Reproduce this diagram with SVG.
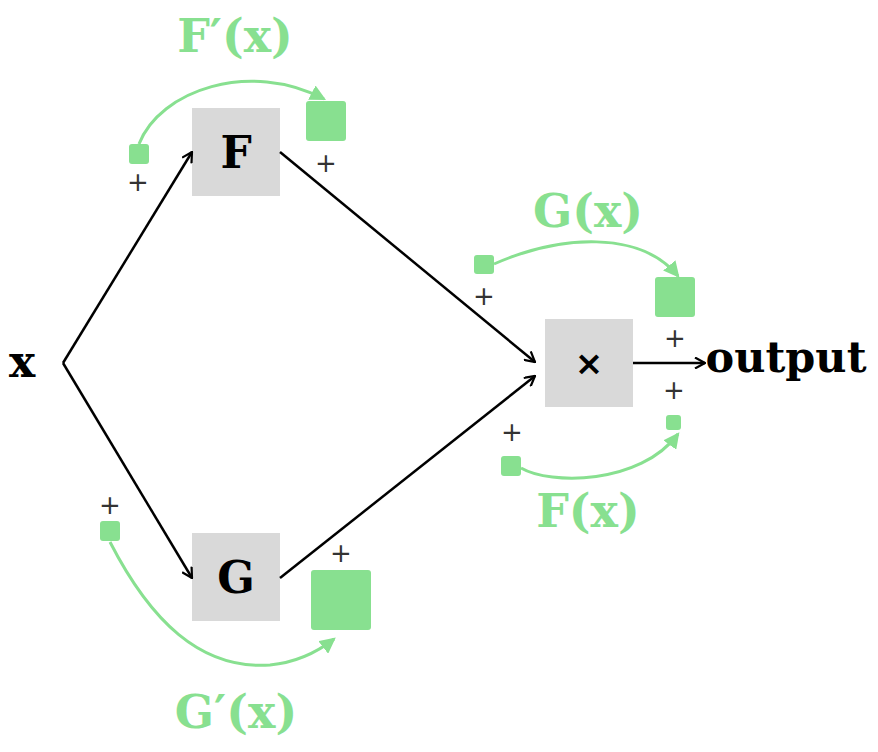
<svg xmlns="http://www.w3.org/2000/svg" width="878" height="752" viewBox="0 0 878 752">
<style>
.box{fill:#d9d9d9}
.lbl{font-family:"DejaVu Serif",serif;font-weight:bold;fill:#000;text-anchor:middle}
.g{fill:#88e090}
.gt{font-family:"DejaVu Serif",serif;font-weight:bold;fill:#88e090;text-anchor:middle;font-size:46px}
.plus{font-family:"DejaVu Sans",sans-serif;fill:#333;font-size:26px;text-anchor:middle}
.edge{stroke:#000;stroke-width:2.5;fill:none;marker-end:url(#open)}
.gc{stroke:#88e090;stroke-width:3;fill:none;marker-end:url(#tri)}
</style>
<defs>
<marker id="open" viewBox="0 0 12 12" refX="11" refY="6" markerWidth="12" markerHeight="12" markerUnits="userSpaceOnUse" orient="auto">
<path d="M1,0.5 L11,6 L1,11.5" fill="none" stroke="#000" stroke-width="2.2"/>
</marker>
<marker id="tri" viewBox="0 0 14 14" refX="12" refY="7" markerWidth="16" markerHeight="16" markerUnits="userSpaceOnUse" orient="auto">
<path d="M0,0 L14,7 L0,14 Z" fill="#88e090"/>
</marker>
</defs>
<g id="x"><text class="lbl" x="22" y="377" font-size="44">x</text></g>
<g id="F"><rect class="box" x="192" y="108" width="88" height="88"/><text class="lbl" x="236" y="168" font-size="44">F</text></g>
<g id="G"><rect class="box" x="192" y="533" width="88" height="88"/><text class="lbl" x="236" y="593" font-size="44">G</text></g>
<g id="mul"><rect class="box" x="545" y="319" width="88" height="88"/><text x="589" y="375" font-family="DejaVu Sans,sans-serif" font-weight="bold" font-size="34" text-anchor="middle">×</text></g>
<g id="output"><text class="lbl" x="786" y="372" font-size="43">output</text></g>
<g id="edges">
<path class="edge" d="M63,363 L192,152"/>
<path class="edge" d="M63,363 L192,578"/>
<path class="edge" d="M280,152 L535,362"/>
<path class="edge" d="M280,578 L535,376"/>
<path class="edge" d="M633,363 L705,363"/>
</g>
<g id="Fprime">
<rect class="g" x="129" y="144" width="20" height="20" rx="3"/>
<rect class="g" x="306" y="101" width="40" height="40" rx="3"/>
<text class="plus" x="138" y="191">+</text>
<text class="plus" x="326" y="172">+</text>
<path class="gc" d="M139,144 C160,90 250,60 324,99"/>
<text class="gt" x="235" y="52">F′(x)</text>
</g>
<g id="Gx">
<rect class="g" x="474" y="255" width="20" height="19" rx="3"/>
<rect class="g" x="655" y="277" width="40" height="40" rx="3"/>
<text class="plus" x="484" y="305">+</text>
<text class="plus" x="675" y="347">+</text>
<path class="gc" d="M494,264 C560,235 640,230 678,276"/>
<text class="gt" x="588" y="227">G(x)</text>
</g>
<g id="Fx">
<rect class="g" x="501" y="456" width="20" height="20" rx="3"/>
<rect class="g" x="666" y="415" width="15" height="15" rx="3"/>
<text class="plus" x="512" y="441">+</text>
<text class="plus" x="674" y="399">+</text>
<path class="gc" d="M521,468 C550,485 640,485 678,434"/>
<text class="gt" x="588" y="527">F(x)</text>
</g>
<g id="Gprime">
<rect class="g" x="100" y="521" width="20" height="20" rx="3"/>
<rect class="g" x="311" y="570" width="60" height="60" rx="3"/>
<text class="plus" x="110" y="514">+</text>
<text class="plus" x="341" y="562">+</text>
<path class="gc" d="M110,542 C150,620 200,670 270,665 C300,662 320,650 334,639"/>
<text class="gt" x="236" y="728">G′(x)</text>
</g>
</svg>
